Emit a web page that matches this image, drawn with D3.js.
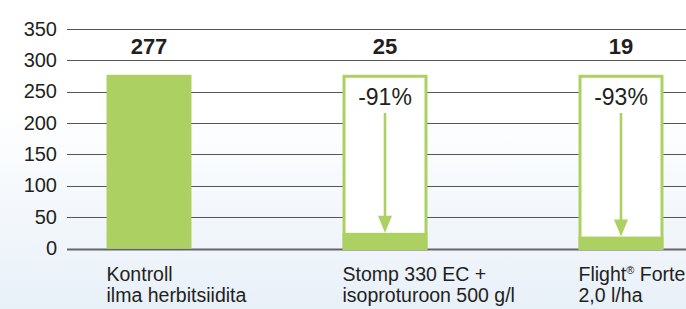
<!DOCTYPE html>
<head>
  <meta charset="UTF-8">
  <title>umbrohi</title>
  <style>
  body, html, svg{
    padding: 0;
    margin: 0;
  }
  body{
    background: #fff;
    overflow: hidden;
  }
  text{
    font-family: "Liberation Sans", Arial, sans-serif;
    fill: #231f20;
  }
  </style>
</head>
<body>
  <script src="https://cdn.jsdelivr.net/npm/d3@7/dist/d3.min.js"></script>
  <script type="text/javascript">
  // andmed
  var categories = ['Kontroll', 'Stomp', 'Flight'];
  var labelLines = [
    ['Kontroll', 'ilma herbitsiidita'],
    ['Stomp 330 EC +', 'isoproturoon 500 g/l'],
    ['Flight\u00AE Forte', '2,0 l/ha']
  ];
  var values = [277, 25, 19];
  var reductions = [null, '-91%', '-93%'];
  var yTicks = [0, 50, 100, 150, 200, 250, 300, 350];

  var width = 686, height = 309;
  var green = '#acd162';

  var svg = d3.select('body').append('svg')
    .attr('width', width)
    .attr('height', height);

  // taust
  var defs = svg.append('defs');
  var grad = defs.append('linearGradient')
    .attr('id', 'bg').attr('x1', 0).attr('y1', 0).attr('x2', 0).attr('y2', 1);
  grad.append('stop').attr('offset', '0.35').attr('stop-color', '#ffffff');
  grad.append('stop').attr('offset', '1').attr('stop-color', '#e8f0f8');
  svg.append('rect').attr('width', width).attr('height', height).attr('fill', 'url(#bg)');

  var y = d3.scaleLinear().domain([0, 350]).range([248.5, 29]);
  var x = d3.scaleBand()
    .domain(categories)
    .range([31, 739])
    .paddingInner(0.64)
    .paddingOuter(0.32);

  // ruudustik
  svg.selectAll('.grid')
    .data(yTicks)
    .enter()
    .append('line')
    .attr('x1', 67)
    .attr('x2', width)
    .attr('y1', function(d) { return Math.round(y(d)) + 0.5; })
    .attr('y2', function(d) { return Math.round(y(d)) + 0.5; })
    .attr('stroke', function(d) { return d === 0 ? '#666' : '#555'; })
    .attr('stroke-width', function(d) { return d === 0 ? 2 : 1.2; });

  svg.selectAll('.ylab')
    .data(yTicks)
    .enter()
    .append('text')
    .attr('x', 57)
    .attr('y', function(d) { return y(d); })
    .attr('dy', '0.33em')
    .attr('text-anchor', 'end')
    .attr('font-size', '20px')
    .text(function(d) { return d; });

  // kontroll-tasemega raamid
  var bw = x.bandwidth();
  svg.selectAll('.frame')
    .data(categories.filter(function(c, i) { return i > 0; }))
    .enter()
    .append('rect')
    .attr('x', function(d) { return x(d) + 1.5; })
    .attr('y', y(values[0]) + 1.5)
    .attr('width', bw - 3)
    .attr('height', y(0) - y(values[0]) - 1.5)
    .attr('fill', '#fff')
    .attr('stroke', green)
    .attr('stroke-width', 3);

  // tulbad
  svg.selectAll('.bar')
    .data(values)
    .enter()
    .append('rect')
    .attr('x', function(d, i) { return x(categories[i]); })
    .attr('y', function(d) { return y(d); })
    .attr('width', bw)
    .attr('height', function(d) { return y(0) - y(d); })
    .attr('fill', green);

  // väärtused
  svg.selectAll('.val')
    .data(values)
    .enter()
    .append('text')
    .attr('x', function(d, i) { return x(categories[i]) + bw / 2; })
    .attr('y', 54)
    .attr('text-anchor', 'middle')
    .attr('font-size', '22px')
    .attr('font-weight', 'bold')
    .text(function(d) { return d; });

  // vähenemine + nool
  values.forEach(function(v, i) {
    if (!reductions[i]) return;
    var cx = x(categories[i]) + bw / 2;
    svg.append('text')
      .attr('x', cx)
      .attr('y', 105)
      .attr('text-anchor', 'middle')
      .attr('font-size', '23px')
      .text(reductions[i]);
    var tip = y(v);
    svg.append('line')
      .attr('x1', cx).attr('x2', cx)
      .attr('y1', 113).attr('y2', tip - 14)
      .attr('stroke', green)
      .attr('stroke-width', 2.6);
    svg.append('path')
      .attr('d', 'M' + (cx - 7) + ',' + (tip - 17) + 'L' + (cx + 7) + ',' + (tip - 17) + 'L' + cx + ',' + tip + 'Z')
      .attr('fill', green);
  });

  // kategooriate sildid
  labelLines.forEach(function(lines, i) {
    var t = svg.append('text')
      .attr('x', x(categories[i]))
      .attr('y', 281)
      .attr('font-size', '19.5px');
    lines.forEach(function(line, j) {
      var ts = t.append('tspan')
        .attr('x', x(categories[i]))
        .attr('dy', j === 0 ? 0 : 21);
      if (line.indexOf('\u00AE') >= 0) {
        var parts = line.split('\u00AE');
        ts.text(parts[0]);
        t.append('tspan').attr('font-size', '11px').attr('dy', -7).text('\u00AE');
        t.append('tspan').attr('dy', 7).text(parts[1]);
      } else {
        ts.text(line);
      }
    });
  });
  </script>
</body>
</html>
